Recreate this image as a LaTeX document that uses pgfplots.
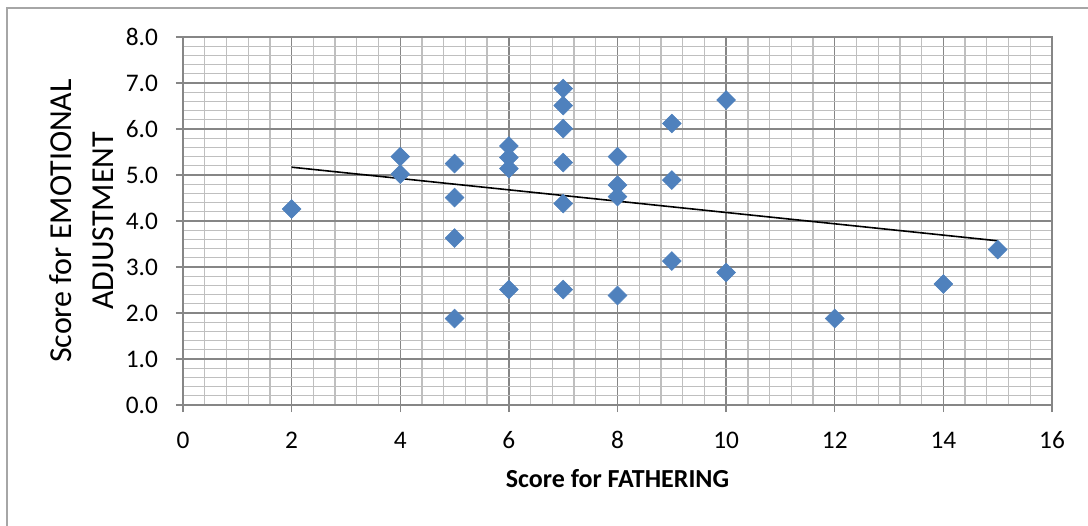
\documentclass[border=0pt]{standalone}
\usepackage{fontspec}
\setmainfont{Carlito}
\usepackage{pgfplots}
\pgfplotsset{compat=1.18}
\definecolor{ptblue}{HTML}{4F81BD}
\definecolor{majgrid}{HTML}{868686}
\definecolor{mingrid}{HTML}{BFBFBF}
\definecolor{framegray}{HTML}{A6A6A6}
\begin{document}
\begin{tikzpicture}
\useasboundingbox (-137.25pt,-90pt) rectangle (678.75pt,303.75pt);
\draw[framegray, line width=1.2pt] (-132pt,-95pt) -- (-132pt,297.75pt) -- (690pt,297.75pt);
\begin{axis}[
  scale only axis,
  width=651.75pt, height=276pt,
  xmin=0, xmax=16, ymin=0, ymax=8,
  xtick distance=2, ytick distance=1,
  minor x tick num=4, minor y tick num=4,
  grid=both,
  major grid style={majgrid, line width=1pt},
  minor grid style={mingrid, line width=1pt},
  axis line style={majgrid, line width=1pt},
  tick align=outside, tick pos=left,
  major tick length=5.25pt, minor tick length=0pt,
  tick style={majgrid, line width=1pt},
  /pgf/number format/assume math mode=true,
  yticklabel={\pgfmathprintnumber[fixed,fixed zerofill,precision=1]{\tick}},
  xticklabel={\pgfmathprintnumber{\tick}},
  tick label style={font=\fontsize{19}{22}\selectfont},
  xticklabel style={anchor=base, yshift=-27pt},
  yticklabel style={anchor=east, xshift=-10pt},
  every axis x label/.style={at={(axis description cs:0.5,-0.2255)}, anchor=base, font=\fontsize{19.5}{23}\selectfont\bfseries},
  every axis y label/.style={at={(axis description cs:-0.1166,0.5)}, anchor=center, rotate=90, align=center, font=\fontsize{24}{31}\selectfont},
  xlabel={Score for FATHERING},
  ylabel={Score for EMOTIONAL\\ADJUSTMENT},
  clip=false,
]
\addplot[only marks, mark=square*, mark size=5pt, mark options={rotate=45, fill=ptblue, draw=ptblue}] coordinates {
(2,4.26)
(4,5.40) (4,5.02)
(5,5.25) (5,4.51) (5,3.63) (5,1.88)
(6,5.63) (6,5.38) (6,5.14) (6,2.51)
(7,6.88) (7,6.51) (7,6.01) (7,5.27) (7,4.38) (7,2.51)
(8,5.40) (8,4.78) (8,4.53) (8,2.38)
(9,6.12) (9,4.89) (9,3.13)
(10,6.63) (10,2.88)
(12,1.88)
(14,2.63)
(15,3.38)
};
\addplot[black, line width=1.2pt, no marks] coordinates {(2,5.17) (15,3.57)};
\end{axis}
\end{tikzpicture}
\end{document}
